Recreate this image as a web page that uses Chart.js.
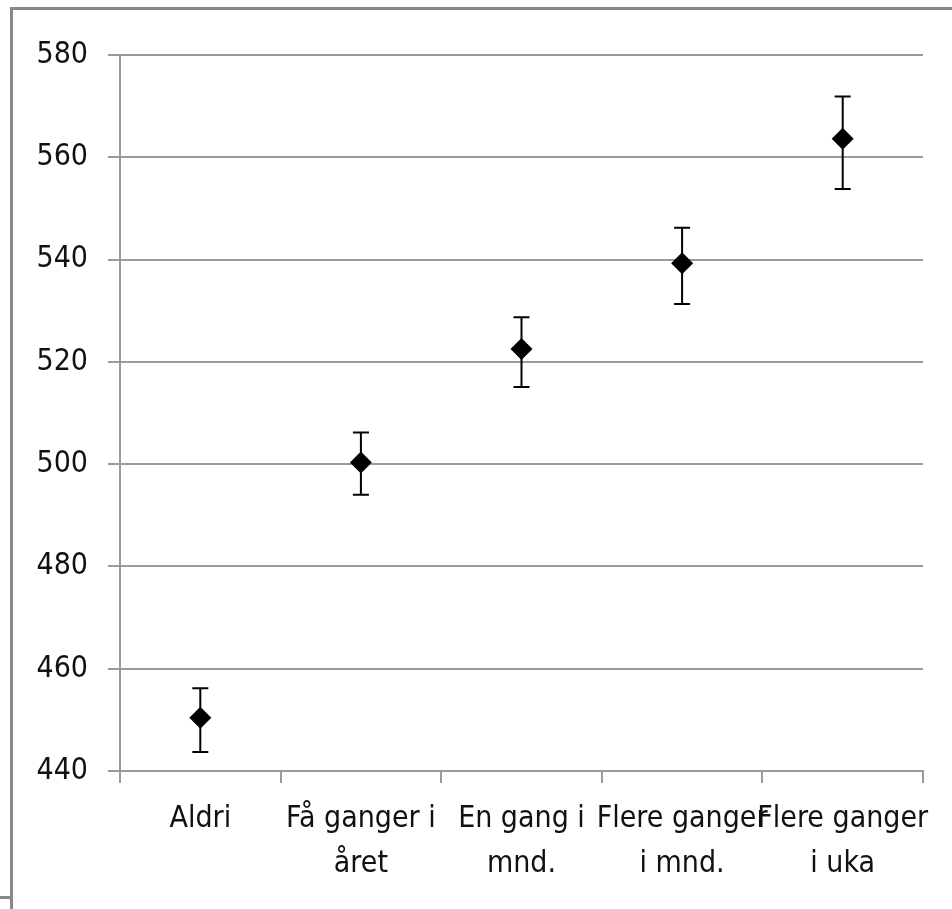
<!DOCTYPE html>
<html>
<head>
<meta charset="utf-8">
<script src="https://cdn.jsdelivr.net/npm/chart.js@4.4.1/dist/chart.umd.min.js"></script>
<style>
  html, body { margin: 0; padding: 0; background: #fff; }
  #wrap { position: relative; width: 952px; height: 909px; overflow: hidden; }
  #wrap canvas { position: absolute; left: 0; top: 0; }
  .frame-top { position: absolute; left: 10px; top: 7px; width: 942px; height: 3px; background: #888; }
  .frame-left { position: absolute; left: 10px; top: 7px; width: 3px; height: 902px; background: #888; }
  .frame-stub { position: absolute; left: 0; top: 896px; width: 11px; height: 3px; background: #888; }
</style>
</head>
<body>
<div id="wrap">
  <canvas id="chart" width="952" height="909"></canvas>
  <div class="frame-top"></div>
  <div class="frame-left"></div>
  <div class="frame-stub"></div>
</div>
<script>
// data lest av figuren
const kategorier = [
  'Aldri',
  ['Få ganger i', 'året'],
  ['En gang i', 'mnd.'],
  ['Flere ganger', 'i mnd.'],
  ['Flere ganger', 'i uka']
];
const snitt = [450.4, 500.3, 522.5, 539.3, 563.6];
const nedre = [443.7, 494.0, 515.1, 531.3, 553.8];
const ovre = [456.2, 506.2, 528.7, 546.2, 571.9];
const yMin = 440, yMax = 580, ySteg = 20;

const font = "'Liberation Sans Narrow', 'DejaVu Sans Condensed', sans-serif";
const gra = '#9a9a9a';

// feilstolper tegnes under punktene
const feilstolper = {
  id: 'feilstolper',
  beforeDatasetsDraw(chart) {
    const c = chart.ctx;
    const x = chart.scales.x, y = chart.scales.y;
    c.save();
    c.strokeStyle = '#000';
    c.lineWidth = 2;
    for (let i = 0; i < snitt.length; i++) {
      const px = x.getPixelForValue(i);
      const top = y.getPixelForValue(ovre[i]);
      const bunn = y.getPixelForValue(nedre[i]);
      c.beginPath();
      c.moveTo(px, top); c.lineTo(px, bunn);
      c.moveTo(px - 8, top); c.lineTo(px + 8, top);
      c.moveTo(px - 8, bunn); c.lineTo(px + 8, bunn);
      c.stroke();
    }
    c.restore();
  }
};

new Chart(document.getElementById('chart'), {
  type: 'line',
  data: {
    labels: kategorier,
    datasets: [{
      data: snitt,
      showLine: false,
      pointStyle: 'rectRot',
      pointRadius: 11,
      pointBackgroundColor: '#000',
      pointBorderWidth: 0
    }]
  },
  options: {
    responsive: false,
    animation: false,
    events: [],
    layout: { padding: { top: 55, right: 29, bottom: 0, left: 0 } },
    plugins: { legend: { display: false }, tooltip: { enabled: false } },
    scales: {
      x: {
        offset: true,
        grid: { offset: true, drawOnChartArea: false, color: gra, lineWidth: 2, tickLength: 12 },
        border: { color: gra, width: 2 },
        ticks: { color: '#111', padding: 14, maxRotation: 0, autoSkip: false,
                 font: { family: font, size: 30, lineHeight: 1.5 } },
        afterFit(s) { s.height = 138; }
      },
      y: {
        min: yMin, max: yMax,
        grid: { color: gra, lineWidth: 2, tickLength: 12 },
        border: { color: gra, width: 2 },
        ticks: { stepSize: ySteg, color: '#111', padding: 20,
                 font: { family: font, size: 30 } },
        afterFit(s) { s.width = 120; }
      }
    }
  },
  plugins: [feilstolper]
});
</script>
</body>
</html>
